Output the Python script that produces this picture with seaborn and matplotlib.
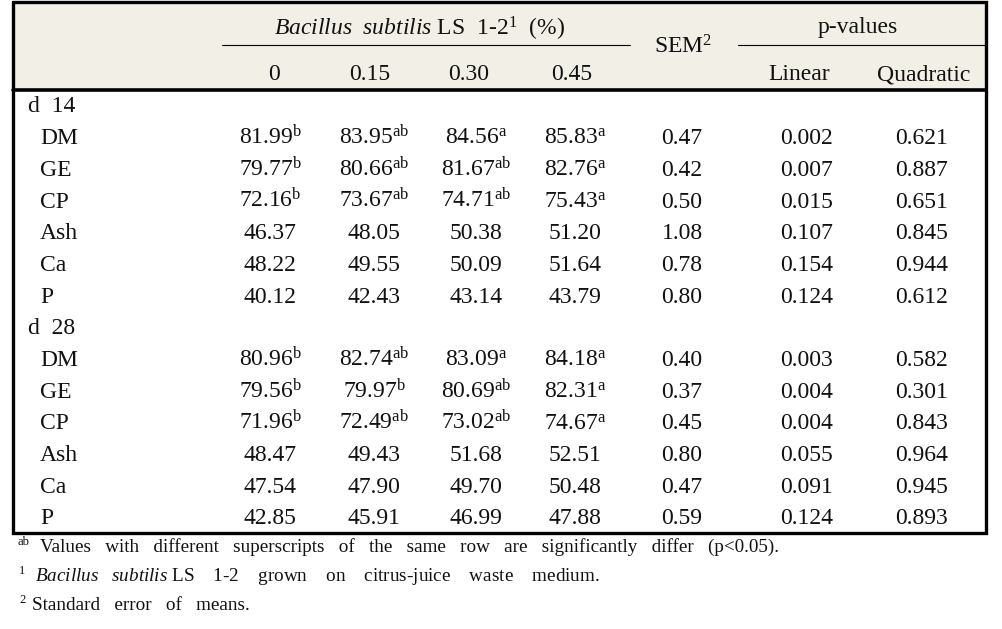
import numpy as np
import pandas as pd
import seaborn as sns
import matplotlib
matplotlib.use("Agg")
import matplotlib.pyplot as plt
from matplotlib.patches import Rectangle

# ---------------- data ----------------
levels = ["0", "0.15", "0.30", "0.45"]
pval_labels = ["Linear", "Quadratic"]
nutrients = ["DM", "GE", "CP", "Ash", "Ca", "P"]
periods = ["d  14", "d  28"]

d14_vals = [[81.99, 83.95, 84.56, 85.83],
            [79.77, 80.66, 81.67, 82.76],
            [72.16, 73.67, 74.71, 75.43],
            [46.37, 48.05, 50.38, 51.20],
            [48.22, 49.55, 50.09, 51.64],
            [40.12, 42.43, 43.14, 43.79]]
d14_sup = [["b", "ab", "a", "a"],
           ["b", "ab", "ab", "a"],
           ["b", "ab", "ab", "a"],
           ["", "", "", ""],
           ["", "", "", ""],
           ["", "", "", ""]]
d14_sem = [0.47, 0.42, 0.50, 1.08, 0.78, 0.80]
d14_lin = [0.002, 0.007, 0.015, 0.107, 0.154, 0.124]
d14_quad = [0.621, 0.887, 0.651, 0.845, 0.944, 0.612]

d28_vals = [[80.96, 82.74, 83.09, 84.18],
            [79.56, 79.97, 80.69, 82.31],
            [71.96, 72.49, 73.02, 74.67],
            [48.47, 49.43, 51.68, 52.51],
            [47.54, 47.90, 49.70, 50.48],
            [42.85, 45.91, 46.99, 47.88]]
d28_sup = [["b", "ab", "a", "a"],
           ["b", "b", "ab", "a"],
           ["b", "ab", "ab", "a"],
           ["", "", "", ""],
           ["", "", "", ""],
           ["", "", "", ""]]
d28_sem = [0.40, 0.37, 0.45, 0.80, 0.47, 0.59]
d28_lin = [0.003, 0.004, 0.004, 0.055, 0.091, 0.124]
d28_quad = [0.582, 0.301, 0.843, 0.964, 0.945, 0.893]

footnote_marks = ["ab", "1", "2"]
footnote_texts = [
    "Values   with   different   superscripts   of   the   same   row   are   significantly   differ   (p<0.05).",
    r"$\mathit{Bacillus\ \ \ subtilis}$ LS    1-2    grown    on    citrus-juice    waste    medium.",
    "Standard   error   of   means.",
]

# ---------------- style ----------------
sns.set_theme(style="white")
plt.rcParams["font.family"] = ["Liberation Serif", "DejaVu Serif"]
plt.rcParams["mathtext.fontset"] = "custom"
plt.rcParams["mathtext.rm"] = "Liberation Serif"
plt.rcParams["mathtext.it"] = "Liberation Serif:italic"
plt.rcParams["mathtext.bf"] = "Liberation Serif:bold"

W, H = 1002, 629
fig = plt.figure(figsize=(W / 100, H / 100), dpi=100)
ax = fig.add_axes([0, 0, 1, 1])
ax.set_xlim(0, W)
ax.set_ylim(H, 0)
ax.axis("off")

FS = 17
FN = 13.8
TXT = "#111111"
HEAD_BG = "#f2efe6"

left, right, top, bottom = 13.5, 986, 1.5, 532.5
head_bot = 90

# header background
ax.add_patch(Rectangle((left, top), right - left, head_bot - top,
                       facecolor=HEAD_BG, edgecolor="none", zorder=0))
# frame
ax.plot([left, right, right, left, left], [top, top, bottom, bottom, top],
        color="black", lw=2.4, solid_joinstyle="miter", zorder=3)
ax.plot([left, right], [head_bot, head_bot], color="black", lw=2.6, zorder=3)
# underlines in header
ax.plot([222, 630], [45, 45], color="black", lw=0.8)
ax.plot([738, right], [45, 45], color="black", lw=0.8)

# column centres
col_x = [270, 374, 476, 575]
sem_x, lin_x, quad_x = 682, 807, 922
head_col_x = [274, 370, 469, 572]

def put(x, y, s, ha="center", size=FS, **kw):
    ax.text(x, y, s, ha=ha, va="baseline", fontsize=size, color=TXT, **kw)

# header text
put(420, 36, r"$\mathit{Bacillus\ \ subtilis}$ LS  1-2$^{\mathrm{1}}$  (%)")
put(683, 53, r"SEM$^{\mathrm{2}}$")
put(858, 33, "p-values")
for x, lab in zip(head_col_x, levels):
    put(x, 80, lab)
put(799, 80, pval_labels[0])
put(924, 80, pval_labels[1])

# body
y0, y_last = 105, 517
n_rows = 14
step = (y_last - y0) / (n_rows - 1)
base_off = 7.5

def fmt_val(v, sup):
    s = f"{v:.2f}"
    if sup:
        s += r"$^{\mathrm{" + sup + "}}$"
    return s

row = 0
for per, vals, sups, sem, lin, quad in [
        (periods[0], d14_vals, d14_sup, d14_sem, d14_lin, d14_quad),
        (periods[1], d28_vals, d28_sup, d28_sem, d28_lin, d28_quad)]:
    y = y0 + row * step + base_off
    put(28, y, per, ha="left")
    row += 1
    for i, nut in enumerate(nutrients):
        y = y0 + row * step + base_off
        put(40, y, nut, ha="left")
        for j in range(4):
            put(col_x[j], y, fmt_val(vals[i][j], sups[i][j]))
        put(sem_x, y, f"{sem[i]:.2f}")
        put(lin_x, y, f"{lin[i]:.3f}")
        put(quad_x, y, f"{quad[i]:.3f}")
        row += 1

# footnotes
fn_y = [552, 581, 610]
mark_x = [18, 19, 19]
text_x = [40, 35, 32]
for mark, txt, y, mx, tx in zip(footnote_marks, footnote_texts, fn_y, mark_x, text_x):
    put(mx, y - 7, mark, ha="left", size=9)
    put(tx, y, txt, ha="left", size=FN)

fig.savefig("out.png", dpi=100, facecolor="white")
